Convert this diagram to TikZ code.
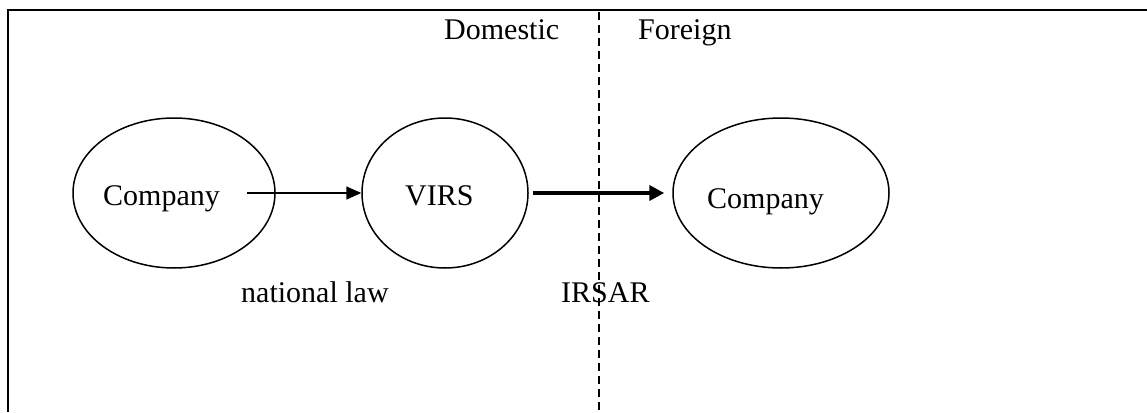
\documentclass[tikz,border=0pt]{standalone}
\usepackage{fontspec}
\setmainfont{Liberation Serif}
\usetikzlibrary{shapes.geometric,arrows.meta}
\begin{document}
\begin{tikzpicture}[x=1pt,y=-1pt,
  every node/.style={inner sep=0pt, font=\fontsize{30}{36}\selectfont},
  entity/.style={draw, ellipse, line width=1.5pt},
  label/.style={anchor=base west},
  flow/.style={-{Triangle[length=15pt,width=13pt]}, line width=1.5pt},
  strongflow/.style={-{Triangle[length=15pt,width=15pt]}, line width=4pt},
  border/.style={line width=2pt, line join=miter},
  divider/.style={line width=1.3pt, dash pattern=on 8pt off 5pt}]
\useasboundingbox (0,0) rectangle (1147,412);

% frame: top and left edges only
\coordinate (tr) at (1147,10);
\coordinate (tl) at (8,10);
\coordinate (bl) at (8,412);
\draw[border] (tr) -- (tl) -- (bl);

% domestic / foreign divider
\coordinate (dtop) at (599,12);
\coordinate (dbot) at (599,412);
\draw[divider] (dtop) -- (dbot);

% entities
\node[entity, minimum width=202pt, minimum height=150pt] (c1) at (174,193) {};
\node[entity, minimum width=166pt, minimum height=150pt] (virs) at (445,193) {};
\node[entity, minimum width=216pt, minimum height=150pt] (c2) at (781,193) {};

\node[label] (t1) at (103,205) {Company};
\node[label] (t2) at (405,205) {VIRS};
\node[label] (t3) at (707,208) {Company};

% flows
\coordinate (s1) at (247,193);
\draw[flow] (s1) -- (virs.west);
\coordinate (s2) at ([xshift=4pt]virs.east);
\coordinate (e2) at ([xshift=-8pt]c2.west);
\draw[strongflow] (s2) -- (e2);

% captions
\node[label] (dom) at (444,40) {Domestic};
\node[label] (for) at (638,40) {Foreign};
\node[label] (nl) at (241,302) {national law};
\node[label] (ir) at (561,302) {IRSAR};
\end{tikzpicture}
\end{document}
